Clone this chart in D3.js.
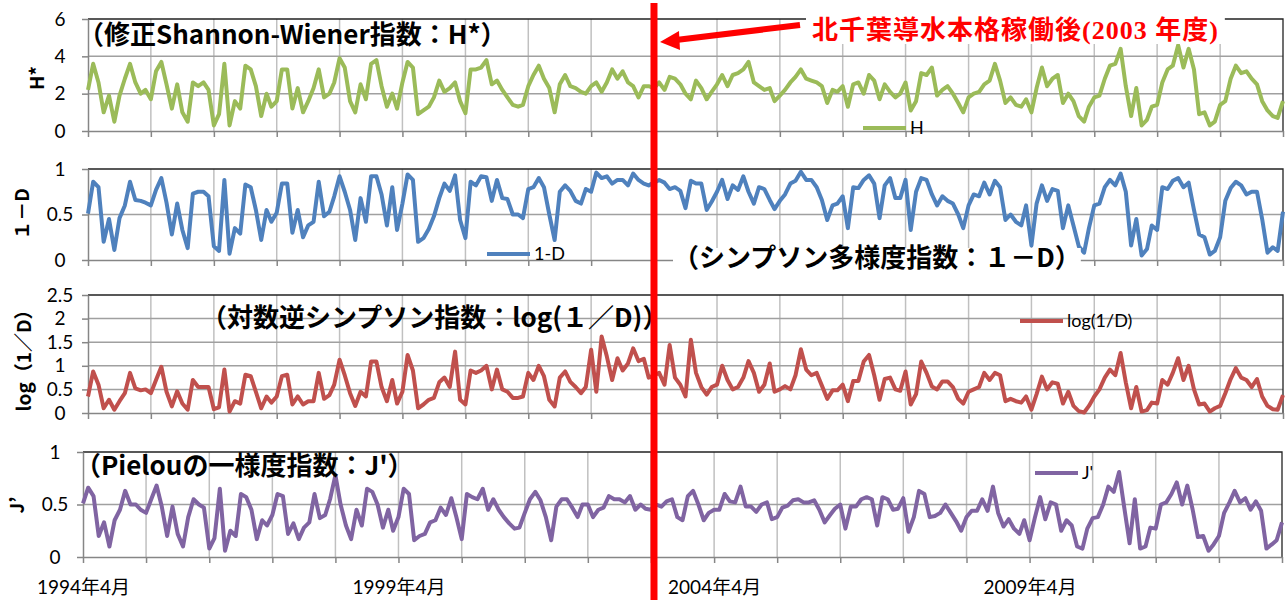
<!DOCTYPE html>
<html>
<head>
<meta charset="utf-8">
<script src="https://cdn.jsdelivr.net/npm/d3@7"></script>
<style>
body { margin: 0; background: #fff; }
text { font-family: Lato, "Noto Sans CJK JP", sans-serif; }
.ttl { font-family: "Noto Sans CJK JP", sans-serif; font-weight: bold; }
.note { font-family: "Liberation Serif", "Noto Sans CJK JP", serif; font-weight: bold; letter-spacing: 1px; }
</style>
</head>
<body>
<svg id="chart" width="1288" height="600"></svg>
<script>
// monthly values, 1994/4 - 2013/4
var hValues = [
 2.2,3.6,2.6,1.0,1.9,0.5,1.9,2.8,3.6,2.6,
 2.0,2.2,1.7,3.2,3.7,2.5,1.2,2.5,1.0,0.5,
 2.6,2.4,2.6,2.2,0.3,0.9,3.6,0.3,1.6,1.2,
 3.5,3.3,2.4,0.8,2.0,1.3,1.6,3.3,3.3,1.2,
 2.3,1.0,1.6,2.3,3.3,1.8,2.0,2.6,3.9,3.4,
 1.6,1.0,2.5,1.7,3.6,3.8,2.4,1.3,2.0,1.2,
 2.6,3.7,3.4,0.9,1.1,1.3,1.8,2.7,2.1,2.3,
 2.6,1.6,0.95,3.3,3.3,3.4,3.8,2.5,2.7,2.2,
 1.8,1.4,1.3,1.4,2.4,3.0,3.5,2.8,2.3,1.0,
 2.5,3.0,2.4,2.3,2.1,2.0,2.4,2.6,2.1,2.6,
 3.3,2.8,3.2,2.6,2.4,1.8,2.4,2.4,2.3,2.6,
 2.2,2.9,2.8,2.5,2.0,1.7,2.7,2.3,1.7,2.1,
 2.5,3.0,2.4,3.0,3.1,3.3,3.7,2.6,2.4,2.2,
 2.3,1.6,1.9,2.2,2.6,2.9,3.3,2.8,2.7,2.6,
 2.4,1.5,2.2,2.1,2.4,1.3,2.5,2.6,2.0,3.0,
 2.7,1.7,2.5,2.1,1.8,2.0,2.6,1.1,1.6,3.1,
 3.0,3.4,1.9,2.2,2.4,2.0,1.5,1.0,1.8,2.0,
 2.1,2.5,2.7,3.6,2.7,1.5,1.8,1.4,1.3,1.7,
 1.0,2.3,3.4,2.4,2.8,3.0,1.5,2.0,1.6,0.8,
 0.5,1.3,1.8,1.9,2.8,3.5,3.6,4.4,2.4,0.8,
 2.3,0.3,0.6,1.3,1.4,2.6,3.3,3.5,4.6,3.4,
 4.4,3.3,0.9,1.0,0.3,0.5,1.4,1.6,2.8,3.5,
 3.1,3.2,2.8,2.5,1.6,1.1,0.8,0.7,1.6
];

var simpsonValues = [
 0.51,0.86,0.8,0.2,0.45,0.11,0.46,0.6,0.86,0.66,
 0.65,0.63,0.6,0.77,0.9,0.63,0.28,0.62,0.33,0.13,
 0.73,0.75,0.75,0.7,0.15,0.1,0.88,0.07,0.35,0.29,
 0.83,0.8,0.55,0.22,0.55,0.42,0.52,0.84,0.84,0.3,
 0.55,0.25,0.38,0.42,0.86,0.48,0.53,0.7,0.92,0.75,
 0.55,0.22,0.68,0.42,0.92,0.92,0.72,0.38,0.8,0.33,
 0.62,0.94,0.88,0.2,0.24,0.34,0.48,0.68,0.84,0.76,
 0.93,0.44,0.24,0.86,0.82,0.92,0.91,0.65,0.88,0.68,
 0.67,0.5,0.5,0.46,0.78,0.8,0.9,0.8,0.5,0.22,
 0.75,0.82,0.76,0.65,0.62,0.78,0.75,0.96,0.9,0.92,
 0.84,0.88,0.88,0.82,0.95,0.88,0.84,0.82,0.85,0.88,
 0.85,0.78,0.8,0.76,0.57,0.87,0.84,0.84,0.55,0.64,
 0.75,0.88,0.67,0.82,0.77,0.92,0.75,0.62,0.8,0.78,
 0.66,0.56,0.65,0.72,0.84,0.87,0.97,0.88,0.88,0.8,
 0.66,0.44,0.6,0.62,0.7,0.35,0.8,0.79,0.88,0.93,
 0.84,0.46,0.82,0.9,0.68,0.68,0.88,0.33,0.75,0.9,
 0.88,0.72,0.6,0.7,0.65,0.62,0.5,0.35,0.6,0.72,
 0.7,0.85,0.72,0.87,0.8,0.44,0.5,0.42,0.38,0.6,
 0.16,0.62,0.82,0.65,0.78,0.76,0.35,0.6,0.38,0.15,
 0.08,0.35,0.6,0.62,0.8,0.88,0.82,0.95,0.75,0.16,
 0.45,0.05,0.12,0.38,0.33,0.8,0.78,0.87,0.9,0.8,
 0.85,0.55,0.28,0.25,0.06,0.1,0.25,0.65,0.79,0.86,
 0.82,0.72,0.75,0.75,0.45,0.08,0.14,0.1,0.53
];

var logValues = [
 0.35,0.88,0.6,0.1,0.28,0.07,0.25,0.42,0.85,0.52,
 0.48,0.5,0.42,0.7,0.98,0.45,0.14,0.46,0.2,0.07,
 0.7,0.55,0.55,0.55,0.08,0.12,0.92,0.03,0.25,0.2,
 0.81,0.78,0.45,0.1,0.35,0.22,0.35,0.78,0.81,0.18,
 0.35,0.18,0.25,0.25,0.85,0.3,0.38,0.6,1.13,0.8,
 0.42,0.15,0.45,0.35,1.09,1.09,0.55,0.25,0.7,0.2,
 0.45,1.23,0.9,0.1,0.18,0.28,0.32,0.65,0.75,0.55,
 1.3,0.28,0.18,0.9,0.85,0.9,1.0,0.5,0.92,0.5,
 0.45,0.32,0.32,0.35,0.85,0.7,1.0,0.78,0.28,0.14,
 0.75,0.88,0.66,0.55,0.42,0.55,1.34,0.45,1.62,1.2,
 0.7,1.16,0.9,1.05,1.37,1.1,1.15,0.75,0.8,0.85,
 0.6,1.44,0.75,0.6,0.35,1.55,0.85,0.55,0.39,0.55,
 0.6,1.0,0.7,0.5,0.55,0.75,1.1,0.85,0.45,0.6,
 1.05,0.45,0.5,0.57,0.5,0.8,1.35,0.92,0.8,0.85,
 0.58,0.3,0.48,0.48,0.6,0.25,0.68,0.68,1.09,1.23,
 0.8,0.28,0.72,0.75,0.5,0.47,0.88,0.18,0.4,1.09,
 0.85,0.56,0.5,0.67,0.67,0.55,0.3,0.2,0.45,0.5,
 0.55,0.85,0.7,0.85,0.8,0.25,0.3,0.25,0.22,0.35,
 0.07,0.4,0.77,0.5,0.65,0.62,0.2,0.45,0.15,0.04,
 0.01,0.15,0.35,0.5,0.75,0.92,0.8,1.27,0.65,0.1,
 0.55,0.03,0.06,0.22,0.2,0.7,0.6,0.85,1.16,0.7,
 1.0,0.5,0.18,0.2,0.03,0.1,0.15,0.42,0.72,0.95,
 0.75,0.7,0.55,0.72,0.35,0.15,0.08,0.07,0.38
];

var pielouValues = [
 0.51,0.66,0.58,0.2,0.33,0.1,0.35,0.45,0.63,0.5,
 0.5,0.45,0.42,0.55,0.68,0.48,0.2,0.48,0.22,0.1,
 0.38,0.55,0.5,0.47,0.08,0.18,0.65,0.06,0.25,0.2,
 0.6,0.57,0.45,0.17,0.35,0.3,0.4,0.6,0.58,0.22,
 0.32,0.17,0.28,0.33,0.6,0.37,0.4,0.55,0.78,0.5,
 0.3,0.17,0.45,0.3,0.65,0.62,0.5,0.28,0.45,0.25,
 0.38,0.65,0.6,0.16,0.2,0.22,0.33,0.35,0.47,0.4,
 0.56,0.38,0.17,0.6,0.57,0.55,0.65,0.45,0.55,0.45,
 0.38,0.32,0.27,0.28,0.42,0.55,0.62,0.54,0.38,0.16,
 0.48,0.55,0.55,0.47,0.38,0.5,0.5,0.38,0.45,0.47,
 0.58,0.55,0.55,0.52,0.58,0.45,0.5,0.46,0.45,0.5,
 0.48,0.53,0.55,0.38,0.35,0.58,0.63,0.5,0.35,0.42,
 0.45,0.45,0.6,0.53,0.52,0.67,0.48,0.48,0.43,0.5,
 0.52,0.36,0.38,0.47,0.49,0.54,0.55,0.52,0.52,0.54,
 0.45,0.33,0.4,0.46,0.5,0.27,0.48,0.48,0.55,0.57,
 0.55,0.3,0.57,0.55,0.45,0.46,0.56,0.24,0.38,0.63,
 0.6,0.38,0.39,0.42,0.5,0.42,0.34,0.25,0.38,0.44,
 0.44,0.55,0.44,0.67,0.42,0.29,0.36,0.27,0.22,0.35,
 0.16,0.37,0.57,0.36,0.52,0.5,0.25,0.35,0.3,0.1,
 0.08,0.27,0.37,0.38,0.5,0.67,0.62,0.81,0.47,0.13,
 0.55,0.08,0.1,0.28,0.27,0.5,0.52,0.6,0.71,0.5,
 0.68,0.45,0.19,0.2,0.06,0.12,0.2,0.42,0.52,0.63,
 0.52,0.56,0.45,0.53,0.44,0.08,0.12,0.16,0.33
];

var seriesNames = ["H", "1-D", "log(1/D)", "J'"];
var axisTitles = ["H*", "１－D", "log（1／D）", "J’"];
var panelTitles = [
  "（修正Shannon-Wiener指数：H*）",
  "（シンプソン多様度指数：１－D）",
  "（対数逆シンプソン指数：log(１／D)）",
  "（Pielouの一様度指数：J'）"
];
var yTickSets = [[0, 2, 4, 6], [0, 0.5, 1], [0, 0.5, 1, 1.5, 2, 2.5], [0, 0.5, 1]];
var noteText = "北千葉導水本格稼働後(2003 年度)";

var months = d3.timeMonth.range(new Date(1994, 3, 1), new Date(2013, 4, 1));
var yearTicks = d3.range(0, 20).map(function(k) { return new Date(1994 + k, 3, 1); });
var startDate = new Date(2003, 3, 1);

var svg = d3.select("#chart");
var fmt = d3.timeFormat("%Y年%-m月");

var panels = [
  { values: hValues, color: "#9BBB59", top: 19, bottom: 131, left: 88, right: 1283,
    title: { x: 78, y: 44 }, ytitle: { x: 37, y: 78 }, legend: { x: 863, y: 128 } },
  { values: simpsonValues, color: "#4F81BD", top: 169, bottom: 260, left: 88, right: 1283,
    title: { x: 673, y: 267, fill: true }, ytitle: { x: 22, y: 214 }, legend: { x: 487, y: 254 } },
  { values: logValues, color: "#C0504D", top: 295, bottom: 413, left: 88, right: 1283,
    title: { x: 201, y: 327 }, ytitle: { x: 24, y: 356 }, legend: { x: 1020, y: 321 } },
  { values: pielouValues, color: "#8064A2", top: 452, bottom: 557, left: 83, right: 1282,
    title: { x: 75, y: 475 }, ytitle: { x: 17, y: 505 }, legend: { x: 1035, y: 473 }, labels: true }
];

var xScales = [];

panels.forEach(function(p, pi) {
  var ticks = yTickSets[pi];
  var x = d3.scaleTime()
      .domain([months[0], months[months.length - 1]])
      .range([p.left, p.right]);
  var y = d3.scaleLinear()
      .domain([0, ticks[ticks.length - 1]])
      .range([p.bottom, p.top]);
  xScales.push(x);

  var g = svg.append("g");

  g.selectAll(".vgrid")
      .data(yearTicks.slice(1, -1))
      .enter().append("line")
      .attr("x1", function(d) { return x(d); })
      .attr("x2", function(d) { return x(d); })
      .attr("y1", p.top).attr("y2", p.bottom)
      .attr("stroke", "#c0c0c0").attr("stroke-width", 1.5);

  g.selectAll(".hgrid")
      .data(ticks.slice(1, -1))
      .enter().append("line")
      .attr("x1", p.left).attr("x2", p.right)
      .attr("y1", function(d) { return y(d); })
      .attr("y2", function(d) { return y(d); })
      .attr("stroke", "#a0a0a0").attr("stroke-width", 1.5);

  // black plot border top + right
  g.append("path")
      .attr("d", "M" + p.left + "," + p.top + "H" + p.right + "V" + p.bottom)
      .attr("fill", "none").attr("stroke", "#222").attr("stroke-width", 1.3);

  var xAxis = d3.axisBottom(x)
      .tickValues(yearTicks)
      .tickSize(6).tickSizeOuter(0).tickPadding(18)
      .tickFormat(function(d) {
        return (p.labels && (d.getFullYear() - 1994) % 5 === 0) ? fmt(d) : "";
      });
  var xg = g.append("g")
      .attr("transform", "translate(0," + p.bottom + ")")
      .call(xAxis);

  var yAxis = d3.axisLeft(y)
      .tickValues(ticks)
      .tickSize(6).tickSizeOuter(0)
      .tickFormat(d3.format(""));
  var yg = g.append("g")
      .attr("transform", "translate(" + p.left + ",0)")
      .call(yAxis);
  yg.selectAll("text").attr("x", -28).attr("text-anchor", "middle");

  [xg, yg].forEach(function(a) {
    a.attr("font-family", null).attr("font-size", 19);
    a.select(".domain").attr("stroke", "#868686").attr("stroke-width", 1.5);
    a.selectAll(".tick line").attr("stroke", "#868686").attr("stroke-width", 1.5);
    a.selectAll("text").attr("fill", "#000");
  });

  var line = d3.line()
      .x(function(d, i) { return x(months[i]); })
      .y(function(d) { return y(d); });

  g.append("path")
      .datum(p.values)
      .attr("d", line)
      .attr("fill", "none")
      .attr("stroke", p.color)
      .attr("stroke-width", 4)
      .attr("stroke-linejoin", "round");

  // legend
  g.append("line")
      .attr("x1", p.legend.x).attr("x2", p.legend.x + 43)
      .attr("y1", p.legend.y).attr("y2", p.legend.y)
      .attr("stroke", p.color).attr("stroke-width", 4);
  g.append("text")
      .attr("x", p.legend.x + 47).attr("y", p.legend.y)
      .attr("dy", "0.35em")
      .attr("font-size", 18)
      .text(seriesNames[pi]);

  // axis title
  g.append("text")
      .attr("class", "ttl")
      .attr("transform", "translate(" + p.ytitle.x + "," + p.ytitle.y + ") rotate(-90)")
      .attr("text-anchor", "middle")
      .attr("dy", "0.36em")
      .attr("font-size", 19)
      .text(axisTitles[pi]);

  // panel title
  var t = g.append("text")
      .attr("class", "ttl")
      .attr("x", p.title.x).attr("y", p.title.y)
      .attr("font-size", 26)
      .text(panelTitles[pi]);
  if (p.title.fill) {
    var bb = t.node().getBBox();
    g.insert("rect", function() { return t.node(); })
        .attr("x", bb.x).attr("y", p.title.y - 19)
        .attr("width", bb.width).attr("height", 24)
        .attr("fill", "#fff");
  }
});

// 2003 marker
var markX = xScales[0](startDate);
svg.append("line")
    .attr("x1", markX).attr("x2", markX)
    .attr("y1", 3).attr("y2", 600)
    .attr("stroke", "#ff0000").attr("stroke-width", 7);

svg.append("line")
    .attr("x1", 800).attr("y1", 25)
    .attr("x2", markX + 22).attr("y2", 40)
    .attr("stroke", "#ff0000").attr("stroke-width", 6);
svg.append("path")
    .attr("d", "M" + (markX + 6) + ",42L" + (markX + 25) + ",31L" + (markX + 26) + ",50Z")
    .attr("fill", "#ff0000");

var note = svg.append("text")
    .attr("class", "note")
    .attr("x", 812).attr("y", 39)
    .attr("font-size", 26)
    .attr("fill", "#ff0000")
    .text(noteText);
var nb = note.node().getBBox();
svg.insert("rect", function() { return note.node(); })
    .attr("x", nb.x - 6).attr("y", 16)
    .attr("width", nb.width + 12).attr("height", 28)
    .attr("fill", "#fff");
</script>
</body>
</html>
